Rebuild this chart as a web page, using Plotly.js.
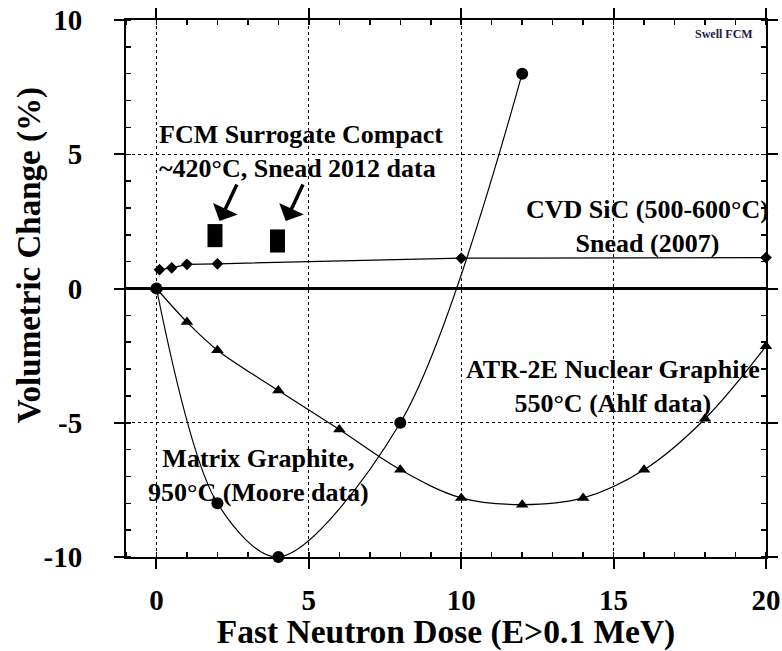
<!DOCTYPE html>
<html>
<head>
<meta charset="utf-8">
<script src="https://cdn.plot.ly/plotly-3.0.1.min.js"></script>
<style>html,body{margin:0;padding:0;background:#fff;}#chart{width:782px;height:651px;}</style>
</head>
<body>
<div id="chart"></div>
<script>
// CVD SiC (500-600°C), Snead (2007)
const sicDose = [0.1, 0.5, 1, 2, 10, 20];
const sicSwell = [0.7, 0.77, 0.9, 0.92, 1.13, 1.15];
// ATR-2E Nuclear Graphite 550°C (Ahlf data)
const atrDose = [0, 1, 2, 4, 6, 8, 10, 12, 14, 16, 18, 20];
const atrSwell = [0, -1.25, -2.3, -3.8, -5.25, -6.75, -7.8, -8.05, -7.8, -6.75, -4.85, -2.15];
// Matrix Graphite, 950°C (Moore data)
const matrixDose = [0, 2, 4, 8, 12];
const matrixSwell = [0, -8, -10, -5, 8];
// FCM Surrogate Compact ~420°C, Snead 2012 data
const fcmDose = [1.92, 3.97];
const fcmSwell = [1.97, 1.77];

const xTickVals = [0, 5, 10, 15, 20];
const xTickText = ['0', '5', '10', '15', '20'];
const yTickVals = [-10, -5, 0, 5, 10];
const yTickText = ['-10', '-5', '0', '5', '10'];

const FONT = '"Liberation Serif", "Times New Roman", serif';
const lineStyle = {color: '#000', width: 1.2};

const traces = [
  {x: sicDose, y: sicSwell, mode: 'lines+markers', name: 'CVD SiC', cliponaxis: false,
   line: lineStyle, marker: {symbol: 'diamond', size: 9, color: '#000'}},
  {x: atrDose, y: atrSwell, mode: 'lines+markers', name: 'ATR-2E', cliponaxis: false,
   line: Object.assign({shape: 'spline', smoothing: 1}, lineStyle), marker: {symbol: 'triangle-up', size: 11, color: '#000'}},
  {x: matrixDose, y: matrixSwell, mode: 'lines+markers', name: 'Matrix Graphite', cliponaxis: false,
   line: Object.assign({shape: 'spline', smoothing: 0.9}, lineStyle), marker: {symbol: 'circle', size: 12, color: '#000'}},
  {x: fcmDose, y: fcmSwell, mode: 'markers', name: 'FCM Surrogate Compact', cliponaxis: false,
   marker: {symbol: 'line-ns-open', size: 16.5, color: '#000', line: {color: '#000', width: 15}}}
];

function txt(text, x, y, xanchor) {
  return {text: text, x: x, y: y, xref: 'x', yref: 'y', xanchor: xanchor, yanchor: 'middle',
          align: xanchor, showarrow: false,
          font: {family: FONT, size: 26, color: '#000', weight: 'bold'}};
}
function arrow(x, y, ax, ay) {
  return {text: '', x: x, y: y, xref: 'x', yref: 'y', ax: ax, ay: ay, showarrow: true,
          arrowhead: 1, arrowsize: 1.3, arrowwidth: 3.5, arrowcolor: '#000'};
}

const layout = {
  width: 782, height: 651,
  margin: {l: 126, r: 16, t: 20, b: 94},
  paper_bgcolor: '#fff', plot_bgcolor: '#fff',
  showlegend: false,
  font: {family: FONT, color: '#000'},
  xaxis: {
    range: [-1, 20], tickmode: 'array', tickvals: xTickVals, ticktext: xTickText,
    ticks: 'outside', ticklen: 10, tickwidth: 2, tickcolor: '#000',
    minor: {dtick: 1, ticks: 'inside', ticklen: 5, tickwidth: 1.5, tickcolor: '#000', showgrid: false},
    showline: true, linewidth: 2, linecolor: '#000', mirror: 'ticks',
    showgrid: true, gridcolor: '#000', gridwidth: 1, griddash: 'dot',
    zeroline: false,
    tickfont: {family: FONT, size: 29, color: '#000', weight: 'bold'},
    ticklabelstandoff: 6,
    title: {text: 'Fast Neutron Dose (E>0.1 MeV)', font: {family: FONT, size: 33.5, color: '#000', weight: 'bold'}, standoff: 2}
  },
  yaxis: {
    range: [-10, 10], tickmode: 'array', tickvals: yTickVals, ticktext: yTickText,
    ticks: 'outside', ticklen: 10, tickwidth: 2, tickcolor: '#000',
    minor: {dtick: 1, ticks: 'inside', ticklen: 5, tickwidth: 1.5, tickcolor: '#000', showgrid: false},
    showline: true, linewidth: 2, linecolor: '#000', mirror: 'ticks',
    showgrid: true, gridcolor: '#000', gridwidth: 1, griddash: 'dot',
    zeroline: true, zerolinecolor: '#000', zerolinewidth: 3,
    tickfont: {family: FONT, size: 29, color: '#000', weight: 'bold'},
    ticklabelstandoff: 26
  },
  annotations: [
    {text: 'Volumetric Change (%)', xref: 'paper', yref: 'paper', x: -0.1516, y: 0.562,
     xanchor: 'center', yanchor: 'middle', textangle: -90, showarrow: false,
     font: {family: FONT, size: 33, color: '#000', weight: 'bold'}},
    txt('FCM Surrogate Compact<br>~420°C, Snead 2012 data', 0.03, 5.10, 'left'),
    txt('CVD SiC (500-600°C)<br>Snead (2007)', 16.1, 2.31, 'center'),
    txt('ATR-2E Nuclear Graphite<br>550°C (Ahlf data)', 14.97, -3.65, 'center'),
    txt('Matrix Graphite,<br>950°C (Moore data)', 3.35, -6.98, 'center'),
    {text: 'Swell FCM', x: 19.64, y: 9.48, xref: 'x', yref: 'y', xanchor: 'right', yanchor: 'middle',
     showarrow: false, font: {family: FONT, size: 12, color: '#1a1a4a', weight: 'bold'}},
    arrow(2.07, 2.51, 18, -38),
    arrow(4.24, 2.51, 18, -38)
  ]
};

Plotly.newPlot('chart', traces, layout, {staticPlot: true, displayModeBar: false});
</script>
</body>
</html>
